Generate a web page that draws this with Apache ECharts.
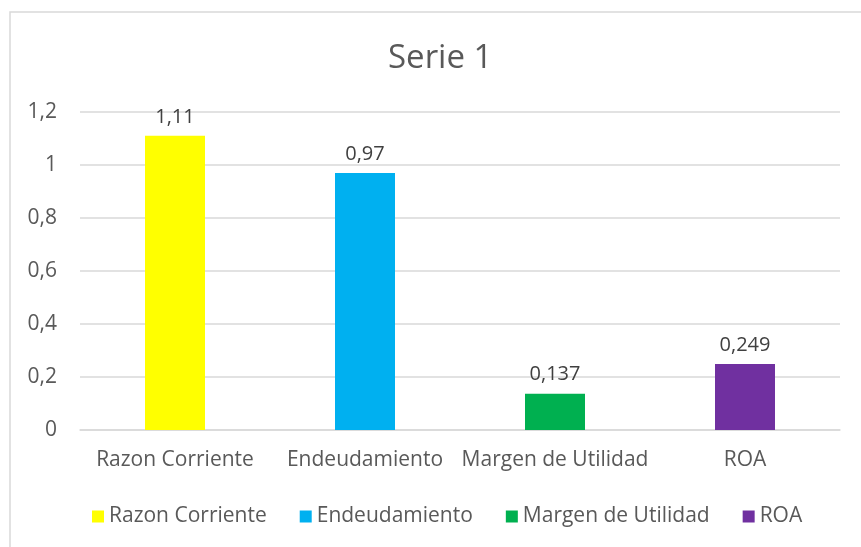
<!DOCTYPE html>
<html>
<head>
<meta charset="utf-8">
<script src="https://cdn.jsdelivr.net/npm/echarts@6/dist/echarts.min.js"></script>
<style>
  html, body { margin: 0; padding: 0; background: #fff; }
  #chart { width: 861px; height: 547px; }
</style>
</head>
<body>
<div id="chart"></div>
<script>
// datos del grafico
var categories = ["Razon Corriente", "Endeudamiento", "Margen de Utilidad", "ROA"];
var values = [1.11, 0.97, 0.137, 0.249];
var colors = ["#FFFF00", "#00B0F0", "#00B050", "#7030A0"];
var yTicks = [0, 0.2, 0.4, 0.6, 0.8, 1, 1.2];

function coma(v) {
  return String(v).replace(".", ",");
}

var chart = echarts.init(document.getElementById("chart"));

// una serie por categoria para que salga en la leyenda
var series = categories.map(function (name, i) {
  var data = categories.map(function (c, j) { return j === i ? values[i] : null; });
  return {
    name: name,
    type: "bar",
    data: data,
    barWidth: 60,
    barGap: "-100%",
    itemStyle: { color: colors[i] },
    label: {
      show: true,
      position: "top",
      distance: 9,
      color: "#404040",
      fontSize: 20,
      fontFamily: "Open Sans",
      formatter: function (p) { return coma(p.value); }
    }
  };
});

chart.setOption({
  animation: false,
  textStyle: { fontFamily: "Open Sans" },
  title: {
    text: "Serie 1",
    left: 383,
    top: 37,
    textStyle: { fontSize: 33, fontWeight: "normal", color: "#595959", fontFamily: "Open Sans" }
  },
  graphic: [{
    type: "rect",
    shape: { x: 10, y: 12, width: 870, height: 560 },
    style: { fill: "none", stroke: "#d9d9d9", lineWidth: 1.5 },
    silent: true
  }],
  legend: {
    data: categories,
    bottom: 15,
    left: 87,
    icon: "rect",
    itemWidth: 12,
    itemHeight: 12,
    itemGap: 33,
    textStyle: { fontSize: 21, color: "#595959", fontFamily: "Open Sans" }
  },
  grid: { left: 80, right: 21, top: 112, bottom: 117 },
  xAxis: {
    type: "category",
    data: categories,
    axisLine: { lineStyle: { color: "#d9d9d9", width: 1.5 } },
    axisTick: { show: false },
    axisLabel: { fontSize: 21, color: "#595959", margin: 20, interval: 0 }
  },
  yAxis: {
    type: "value",
    min: yTicks[0],
    max: yTicks[yTicks.length - 1],
    interval: 0.2,
    axisLine: { show: false },
    axisTick: { show: false },
    splitLine: { lineStyle: { color: "#d9d9d9", width: 1.5 } },
    axisLabel: {
      fontSize: 21,
      color: "#595959",
      margin: 23,
      formatter: function (v) { return coma(+v.toFixed(1)); }
    }
  },
  series: series
});
</script>
</body>
</html>
